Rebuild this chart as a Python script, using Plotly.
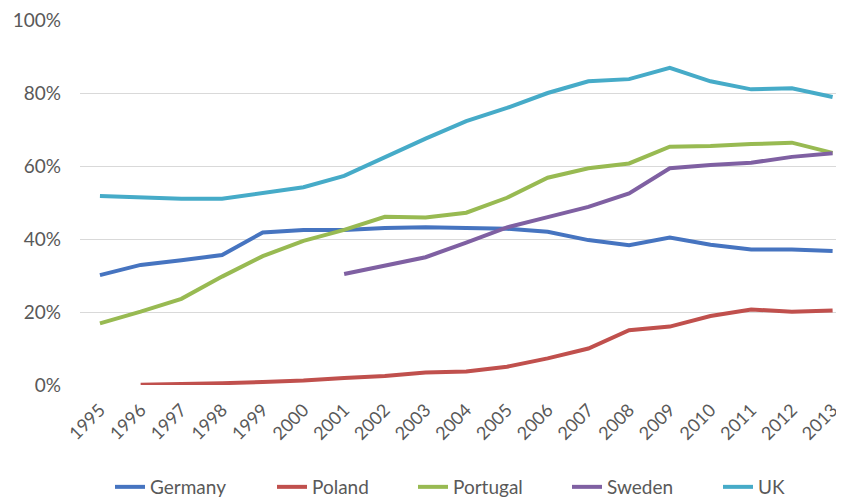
import plotly.graph_objects as go

years = [str(y) for y in range(1995, 2014)]

germany = [30.1, 32.9, 34.2, 35.6, 41.8, 42.5, 42.5, 43.0, 43.2, 43.0, 42.8, 42.0, 39.7, 38.3, 40.4, 38.4, 37.1, 37.1, 36.7]
poland = [None, 0.1, 0.2, 0.5, 0.8, 1.2, 1.9, 2.5, 3.4, 3.7, 5.0, 7.3, 10.0, 15.0, 16.0, 18.9, 20.7, 20.1, 20.4]
portugal = [16.9, 20.1, 23.6, 29.7, 35.3, 39.5, 42.5, 46.1, 45.9, 47.2, 51.3, 56.8, 59.4, 60.7, 65.3, 65.5, 66.0, 66.4, 63.6]
sweden = [None, None, None, None, None, None, 30.4, 32.7, 35.0, 39.0, 43.2, 46.0, 48.8, 52.5, 59.4, 60.3, 60.9, 62.5, 63.5]
uk = [51.8, 51.3, 51.0, 51.0, 52.5, 54.2, 57.3, 62.5, 67.5, 72.3, 75.9, 80.0, 83.2, 83.8, 86.9, 83.2, 81.0, 81.3, 78.9]

series = [
    ("Germany", germany, "#4674C0"),
    ("Poland", poland, "#C0504D"),
    ("Portugal", portugal, "#98BA52"),
    ("Sweden", sweden, "#7F60A2"),
    ("UK", uk, "#46ABC8"),
]

# legend entry left edges (pixels within the figure)
legend_left_px = [102, 264, 405, 559, 710]

FIG_W, FIG_H = 836, 492
font_family = "Lato, 'Open Sans', sans-serif"

fig = go.Figure()
legend_layout = {}
for i, (name, vals, color) in enumerate(series):
    lg = "legend" if i == 0 else f"legend{i + 1}"
    fig.add_trace(go.Scatter(
        x=years, y=vals, name=name, mode="lines",
        line=dict(color=color, width=4),
        connectgaps=False, legend=lg, showlegend=True,
    ))
    legend_layout[lg] = dict(
        orientation="h", xref="container", yref="container",
        x=legend_left_px[i] / FIG_W, xanchor="left",
        y=(FIG_H - 479) / FIG_H, yanchor="middle",
        bgcolor="rgba(0,0,0,0)", borderwidth=0,
        font=dict(size=19, color="#595959", family=font_family),
    )

fig.update_layout(
    width=FIG_W, height=FIG_H,
    margin=dict(l=72, r=0, t=12, b=115, autoexpand=False),
    paper_bgcolor="white", plot_bgcolor="white",
    font=dict(family=font_family, size=18, color="#595959"),
    showlegend=True,
    xaxis=dict(type="category", range=[-0.49, 18.28], tickangle=-45,
               showgrid=False, showline=False, ticks="", automargin=False,
               ticklabelstandoff=10,
               tickfont=dict(size=18, color="#595959")),
    yaxis=dict(range=[0, 100], tickvals=[0, 20, 40, 60, 80, 100],
               ticktext=["0%", "20%", "40%", "60%", "80%", "100%"],
               showgrid=True, gridcolor="#D9D9D9", gridwidth=1,
               zeroline=False, showline=False, ticks="", automargin=False,
               ticklabelstandoff=18, ticklabeloverflow="allow",
               tickfont=dict(size=19, color="#595959")),
    **legend_layout,
)

fig.write_html("out.html")
